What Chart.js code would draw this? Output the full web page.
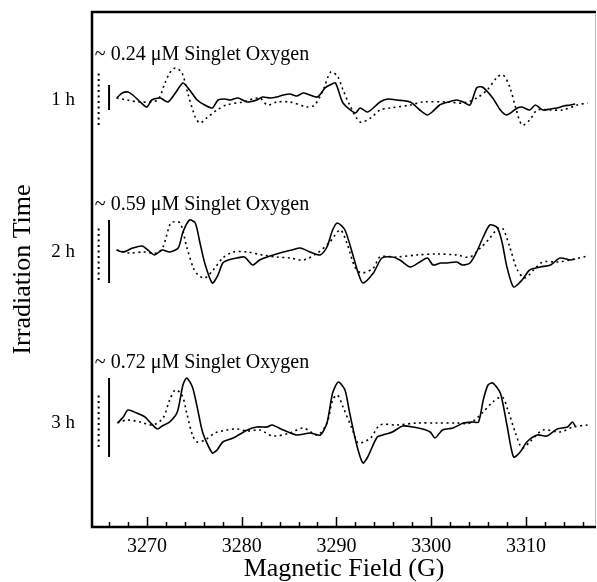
<!DOCTYPE html>
<html>
<head>
<meta charset="utf-8">
<script src="https://cdn.jsdelivr.net/npm/chart.js@4"></script>
<style>
  html, body { margin: 0; padding: 0; background: #fff; }
  #wrap { width: 597px; height: 582px; }
</style>
</head>
<body>
<div id="wrap"><canvas id="epr" width="597" height="582"></canvas></div>
<script>
// rows of the figure
const times = ['1 h', '2 h', '3 h'];
const o2Labels = ['~ 0.24 μM Singlet Oxygen', '~ 0.59 μM Singlet Oxygen', '~ 0.72 μM Singlet Oxygen'];

// x axis ticks (G)
const xTicks = [3270, 3280, 3290, 3300, 3310];
const minorTicks = [3266, 3268, 3270, 3272, 3274, 3276, 3278, 3280, 3282, 3284, 3286, 3288, 3290,
  3292, 3294, 3296, 3298, 3300, 3302, 3304, 3306, 3308, 3310, 3312, 3314, 3316];

// intensity scale bars [low, high] (a.u.)
const solidBars = [[-10, 15], [-31, 32], [-34, 45]];
const dottedBars = [[-25, 30], [-28, 27], [-24, 31]];

// spectra: [field G, intensity a.u.]
const solid1h = [[3266.8, 2], [3267.4, 7], [3268.0, 8], [3268.5, 5], [3269.3, -2], [3270.0, -7], [3270.5, 0],
  [3271.4, 2], [3272.2, -2], [3273.0, 7], [3273.8, 17], [3274.5, 10], [3275.3, 0], [3276.1, -5], [3276.9, -8],
  [3277.5, 0], [3278.2, 1], [3278.8, 0], [3279.6, 2], [3280.6, -2], [3281.6, 0], [3282.2, 3], [3283.0, 2],
  [3283.7, 3], [3284.4, 5], [3285.1, 6], [3285.8, 4], [3286.5, 7], [3287.2, 5], [3288.0, 3], [3288.8, 12],
  [3289.3, 15], [3289.9, 17], [3290.7, -3], [3292.0, -13], [3292.5, -8], [3293.3, -12], [3294.6, -2],
  [3295.4, 1], [3296.4, 0], [3297.8, -2], [3298.8, -10], [3299.6, -15], [3300.1, -12], [3300.9, -5],
  [3301.8, -2], [3302.7, 0], [3303.4, -2], [3304.1, -5], [3304.8, 12], [3305.4, 13], [3306.5, 2],
  [3307.3, -10], [3308.0, -15], [3309.1, -8], [3309.6, -7], [3310.4, -10], [3311.0, -5], [3311.8, -10],
  [3312.6, -9], [3313.3, -8], [3314.0, -6], [3314.7, -5], [3315.2, -4]];
const dotted1h = [[3266.8, 2], [3267.9, 0], [3269.3, -2], [3271.1, 0], [3271.9, 17], [3272.4, 27], [3273.0, 32],
  [3273.7, 27], [3274.3, 7], [3275.1, -17], [3275.6, -23], [3276.3, -18], [3277.4, -10], [3278.4, -5],
  [3280.1, -2], [3281.9, 2], [3282.7, -5], [3283.7, -2], [3285.1, -2], [3286.9, -7], [3287.7, -5],
  [3288.6, 10], [3289.4, 28], [3290.1, 24], [3290.7, 10], [3291.4, -5], [3292.5, -22], [3293.6, -18],
  [3294.6, -10], [3295.7, -8], [3297.8, -5], [3299.1, -2], [3301.7, -2], [3303.4, -3], [3304.8, 2],
  [3305.9, 10], [3307.0, 23], [3307.6, 25], [3308.3, 13], [3308.9, -7], [3309.6, -25], [3310.4, -20],
  [3311.2, -10], [3312.6, -10], [3313.9, -10], [3315.4, -5], [3316.5, -3]];

const solid2h = [[3266.8, 2], [3267.5, 0], [3268.5, 4], [3269.5, 6], [3270.1, 2], [3270.8, -3], [3271.6, 2],
  [3272.4, 0], [3273.3, 4], [3273.8, 20], [3274.5, 32], [3275.1, 29], [3275.6, 9], [3276.1, -11],
  [3276.9, -31], [3277.5, -23], [3278.0, -11], [3278.6, -8], [3279.5, -6], [3280.3, -5], [3280.9, -11],
  [3281.2, -13], [3281.9, -8], [3283.0, -4], [3284.4, 0], [3285.3, 2], [3286.2, 4], [3287.2, 0],
  [3288.3, -3], [3289.0, 5], [3289.6, 22], [3290.1, 29], [3290.9, 22], [3291.8, -5], [3292.3, -21],
  [3292.8, -31], [3293.9, -21], [3294.8, -6], [3295.9, -5], [3296.7, -8], [3297.8, -15], [3298.8, -10],
  [3299.6, -6], [3300.2, -13], [3301.0, -11], [3301.7, -11], [3302.7, -10], [3303.3, -13], [3304.1, -11],
  [3304.8, 0], [3305.5, 15], [3306.2, 27], [3307.0, 24], [3307.5, 9], [3308.0, -15], [3308.7, -35],
  [3309.6, -28], [3310.4, -18], [3311.5, -15], [3312.6, -13], [3313.6, -6], [3314.7, -8], [3315.2, -7]];
const dotted2h = [[3266.8, 2], [3268.2, -1], [3269.6, 0], [3271.1, -1], [3271.7, 5], [3272.4, 27], [3272.7, 30],
  [3273.5, 29], [3274.2, 5], [3274.9, -16], [3275.4, -23], [3276.1, -26], [3277.0, -18], [3278.0, -6],
  [3279.1, 0], [3280.6, 0], [3282.2, -3], [3283.7, -5], [3285.1, -6], [3286.5, -8], [3288.0, -1],
  [3289.3, 10], [3290.4, 22], [3291.1, 9], [3292.0, -16], [3292.7, -21], [3293.9, -16], [3294.6, -5],
  [3296.4, -5], [3298.5, -3], [3300.6, -2], [3302.7, -3], [3304.1, -5], [3305.2, 4], [3306.2, 14],
  [3307.1, 24], [3307.6, 23], [3308.3, 5], [3309.1, -18], [3309.9, -26], [3310.8, -18], [3311.8, -10],
  [3313.3, -10], [3314.7, -8], [3316.5, -4]];

const solid3h = [[3266.9, 0], [3267.5, 6], [3268.0, 13], [3268.9, 10], [3269.8, 6], [3270.3, 1], [3271.1, -6],
  [3271.6, -3], [3272.4, 1], [3273.2, 11], [3273.8, 38], [3274.2, 45], [3274.8, 36], [3275.3, 16],
  [3275.9, -10], [3276.9, -30], [3277.4, -27], [3278.0, -19], [3279.1, -15], [3280.6, -7], [3281.6, -4],
  [3282.7, -4], [3283.2, -2], [3284.4, -7], [3285.8, -12], [3287.2, -10], [3288.3, -12], [3289.0, 0],
  [3289.6, 30], [3290.2, 41], [3290.9, 33], [3291.4, 10], [3292.2, -24], [3292.8, -40], [3293.3, -34],
  [3294.3, -14], [3294.9, -12], [3295.9, -9], [3297.0, -3], [3298.1, -4], [3299.1, -6], [3299.9, -9],
  [3300.4, -15], [3301.2, -7], [3302.3, -5], [3303.4, 0], [3304.4, 1], [3305.0, 1], [3305.5, 23],
  [3306.0, 38], [3306.5, 40], [3307.3, 30], [3308.0, -2], [3308.7, -34], [3309.4, -29], [3310.1, -19],
  [3311.2, -12], [3312.2, -13], [3313.3, -6], [3314.4, -4], [3314.9, 1], [3315.2, -3]];
const dotted3h = [[3266.9, 0], [3267.9, 3], [3269.3, 1], [3270.6, -2], [3271.7, 5], [3272.4, 23], [3273.0, 33],
  [3273.7, 28], [3274.2, 10], [3274.8, -12], [3275.3, -19], [3276.1, -17], [3277.2, -10], [3278.4, -7],
  [3279.5, -6], [3280.6, -8], [3281.9, -7], [3283.3, -13], [3285.1, -10], [3286.5, -5], [3288.0, -12],
  [3289.0, 0], [3289.6, 23], [3290.1, 28], [3290.7, 16], [3291.7, -7], [3292.3, -20], [3293.6, -15],
  [3294.6, -2], [3296.4, -2], [3298.5, 0], [3300.6, 0], [3302.7, 0], [3304.1, 0], [3305.5, 11],
  [3306.5, 21], [3307.5, 26], [3308.1, 13], [3308.9, -10], [3309.6, -25], [3310.4, -19], [3311.8, -7],
  [3313.6, -9], [3315.0, -4], [3316.5, -2]];

const solids = [solid1h, solid2h, solid3h];
const dotteds = [dotted1h, dotted2h, dotted3h];

// layout: vertical offset of each row on the stacked axis, and scale bar x positions
const rowBase = [427, 275, 104];
const dotBarX = 3264.9;
const solidBarX = 3266.0;
const SERIF = "'Liberation Serif', 'Times New Roman', serif";
const DOTS = [2, 3.5];

function shift(points, base) {
    return points.map(p => ({ x: p[0], y: p[1] + base }));
}

const datasets = [];
times.forEach((t, i) => {
    const base = rowBase[i];
    datasets.push({ label: t + ' solid', data: shift(solids[i], base), borderColor: '#000', borderWidth: 1.6, tension: 0.25 });
    datasets.push({ label: t + ' dotted', data: shift(dotteds[i], base), borderColor: '#000', borderWidth: 1.6, borderDash: DOTS, tension: 0.3 });
    datasets.push({ label: t + ' bar', data: solidBars[i].map(v => ({ x: solidBarX, y: v + base })), borderColor: '#000', borderWidth: 2 });
    datasets.push({ label: t + ' dotted bar', data: dottedBars[i].map(v => ({ x: dotBarX, y: v + base })), borderColor: '#000', borderWidth: 2, borderDash: DOTS });
});

// frame, inward ticks and the singlet oxygen labels
const decorations = {
    id: 'decorations',
    afterDatasetsDraw(chart) {
        const { ctx, scales: { x, y } } = chart;
        ctx.save();
        ctx.fillStyle = '#000';
        ctx.font = '20px ' + SERIF;
        ctx.textAlign = 'left';
        ctx.textBaseline = 'middle';
        o2Labels.forEach((txt, i) => {
            const top = Math.max(solidBars[i][1], dottedBars[i][1]);
            ctx.fillText(txt, x.getPixelForValue(3264.5), y.getPixelForValue(rowBase[i] + top + 15));
        });
        ctx.restore();
    },
    afterDraw(chart) {
        const { ctx, chartArea: a, scales: { x } } = chart;
        ctx.save();
        ctx.strokeStyle = '#000';
        ctx.lineWidth = 2.5;
        ctx.beginPath();
        ctx.moveTo(a.right, a.top);
        ctx.lineTo(a.left, a.top);
        ctx.lineTo(a.left, a.bottom);
        ctx.lineTo(a.right, a.bottom);
        ctx.stroke();
        ctx.strokeStyle = '#bbb';
        ctx.lineWidth = 1;
        ctx.beginPath();
        ctx.moveTo(a.right - 0.5, a.top + 1);
        ctx.lineTo(a.right - 0.5, a.bottom - 1);
        ctx.stroke();
        ctx.strokeStyle = '#000';
        ctx.lineWidth = 1.5;
        minorTicks.forEach(v => {
            const px = Math.round(x.getPixelForValue(v)) + 0.5;
            const len = xTicks.includes(v) ? 10 : 5;
            ctx.beginPath();
            ctx.moveTo(px, a.bottom);
            ctx.lineTo(px, a.bottom - len);
            ctx.stroke();
        });
        ctx.restore();
    }
};

new Chart(document.getElementById('epr'), {
    type: 'line',
    data: { datasets },
    options: {
        responsive: false,
        devicePixelRatio: 1,
        animation: false,
        events: [],
        layout: { padding: { top: 12, right: 1, left: 0, bottom: 0 } },
        elements: { point: { radius: 0 } },
        plugins: { legend: { display: false }, tooltip: { enabled: false } },
        scales: {
            x: {
                type: 'linear',
                min: 3264.2,
                max: 3317.4,
                afterBuildTicks: axis => { axis.ticks = xTicks.map(v => ({ value: v })); },
                afterFit: axis => { axis.height = 55; axis.paddingLeft = 0; axis.paddingRight = 0; },
                grid: { display: false, drawTicks: false },
                border: { display: false },
                ticks: { color: '#000', padding: 8, maxRotation: 0, font: { family: SERIF, size: 20 }, callback: v => String(v) },
                title: { display: true, text: 'Magnetic Field (G)', color: '#000', padding: { top: 0, bottom: 0 }, font: { family: SERIF, size: 26, lineHeight: 1 } }
            },
            y: {
                type: 'linear',
                min: 0,
                max: 515,
                afterBuildTicks: axis => { axis.ticks = rowBase.map(v => ({ value: v })); },
                afterFit: axis => { axis.width = 92; axis.paddingTop = 0; axis.paddingBottom = 0; },
                grid: { display: false, drawTicks: false },
                border: { display: false },
                ticks: { color: '#000', padding: 17, font: { family: SERIF, size: 19 }, callback: (v, i) => times[i] },
                title: { display: true, text: 'Irradiation Time', color: '#000', padding: { top: 10, bottom: 0 }, font: { family: SERIF, size: 26, lineHeight: 1 } }
            }
        }
    },
    plugins: [decorations]
});
</script>
</body>
</html>
